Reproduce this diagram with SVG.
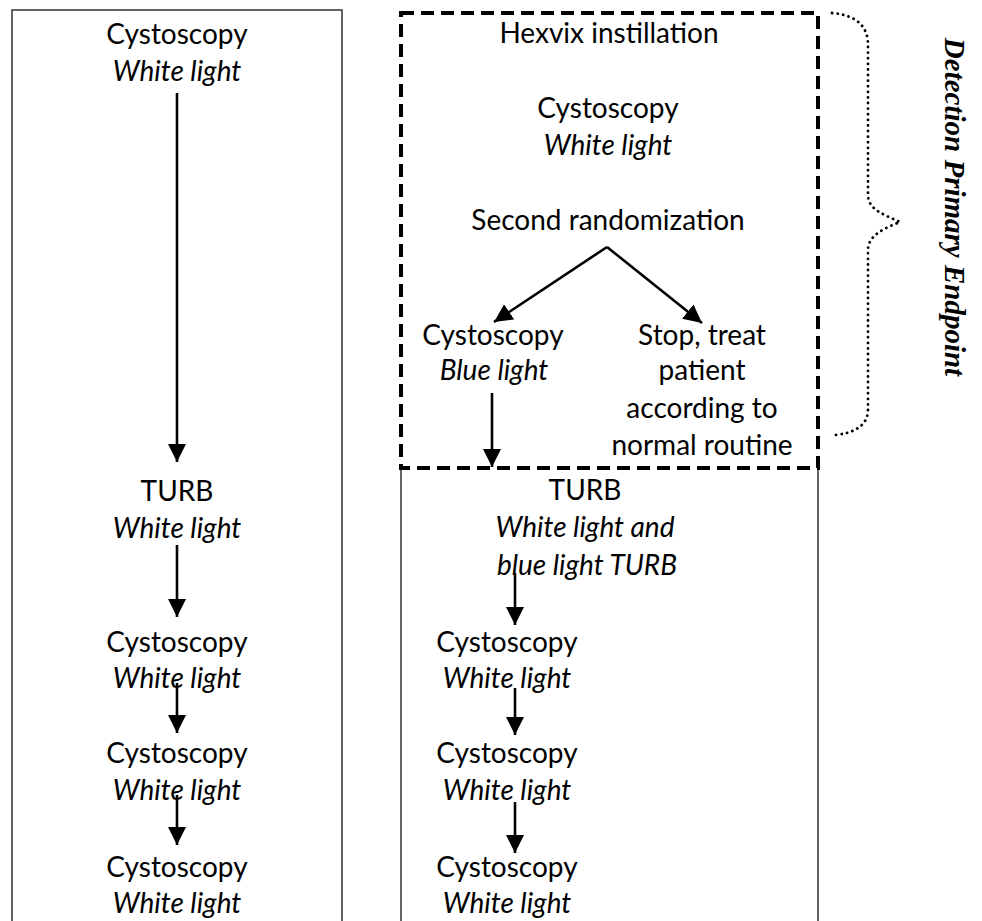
<svg xmlns="http://www.w3.org/2000/svg" width="982" height="921" viewBox="0 0 982 921">
<defs>
<marker id="ah" viewBox="0 0 10 10" refX="10" refY="5" markerWidth="7" markerHeight="7.5" markerUnits="strokeWidth" orient="auto">
<path d="M0,0 L10,5 L0,10 Z" fill="#000"/>
</marker>
</defs>
<style>
text{font-family:"Lato","Liberation Sans",sans-serif;font-size:28px;fill:#000;text-anchor:middle}
.i{font-style:italic}
.box{fill:none;stroke:#333;stroke-width:1.5}
.dash{fill:none;stroke:#000;stroke-width:4;stroke-dasharray:13 7}
.arr{fill:none;stroke:#000;stroke-width:2.6;marker-end:url(#ah)}
.brace{fill:none;stroke:#000;stroke-width:2.8;stroke-dasharray:0.1 5.5;stroke-linecap:round}
.side{font-family:"Liberation Serif",serif;font-weight:bold;font-style:italic;font-size:29px}
</style>
<rect width="982" height="921" fill="#fff"/>
<g id="frames">
<path class="box" d="M12,921 L12,10 L342,10 L342,921"/>
<path class="box" d="M401,467 L401,921 M818,467 L818,921"/>
<rect class="dash" x="401" y="13" width="417" height="455"/>
</g>
<g id="connectors">
<line class="arr" x1="177" y1="93" x2="177" y2="462"/>
<line class="arr" x1="177" y1="545" x2="177" y2="617"/>
<line class="arr" x1="177" y1="683" x2="177" y2="733"/>
<line class="arr" x1="177" y1="795" x2="177" y2="845"/>
<line class="arr" x1="607" y1="247" x2="494" y2="322"/>
<line class="arr" x1="607" y1="247" x2="702" y2="323"/>
<line class="arr" x1="492" y1="393" x2="492" y2="467"/>
<line class="arr" x1="515" y1="573" x2="515" y2="625"/>
<line class="arr" x1="515" y1="688" x2="515" y2="735"/>
<line class="arr" x1="515" y1="802" x2="515" y2="853"/>
</g>
<g id="brace">
<path class="brace" d="M832,13 C855,15 868,25 868,45 L868,195 C868,210 885,215 900,222 C885,228 868,235 868,250 L868,410 C868,425 855,433 835,435"/>
<text class="side" transform="translate(945,207) rotate(90)">Detection Primary Endpoint</text>
</g>
<g id="l1"><text x="177" y="44">Cystoscopy</text><text class="i" x="177" y="81">White light</text></g>
<g id="l2"><text x="177" y="501">TURB</text><text class="i" x="177" y="538">White light</text></g>
<g id="l3"><text x="177" y="652">Cystoscopy</text><text class="i" x="177" y="688">White light</text></g>
<g id="l4"><text x="177" y="763">Cystoscopy</text><text class="i" x="177" y="800">White light</text></g>
<g id="l5"><text x="177" y="877">Cystoscopy</text><text class="i" x="177" y="913">White light</text></g>
<g id="r0"><text x="609" y="43">Hexvix instillation</text></g>
<g id="r1"><text x="608" y="118">Cystoscopy</text><text class="i" x="608" y="155">White light</text></g>
<g id="r2"><text x="608" y="230">Second randomization</text></g>
<g id="r3a"><text x="493" y="345">Cystoscopy</text><text class="i" x="494" y="380">Blue light</text></g>
<g id="r3b"><text x="702" y="345">Stop, treat</text><text x="702" y="380">patient</text><text x="702" y="418">according to</text><text x="702" y="455">normal routine</text></g>
<g id="r4"><text x="585" y="500">TURB</text><text class="i" x="585" y="537">White light and</text><text class="i" x="587" y="575">blue light TURB</text></g>
<g id="r5"><text x="507" y="652">Cystoscopy</text><text class="i" x="507" y="688">White light</text></g>
<g id="r6"><text x="507" y="763">Cystoscopy</text><text class="i" x="507" y="800">White light</text></g>
<g id="r7"><text x="507" y="877">Cystoscopy</text><text class="i" x="507" y="913">White light</text></g>
</svg>
